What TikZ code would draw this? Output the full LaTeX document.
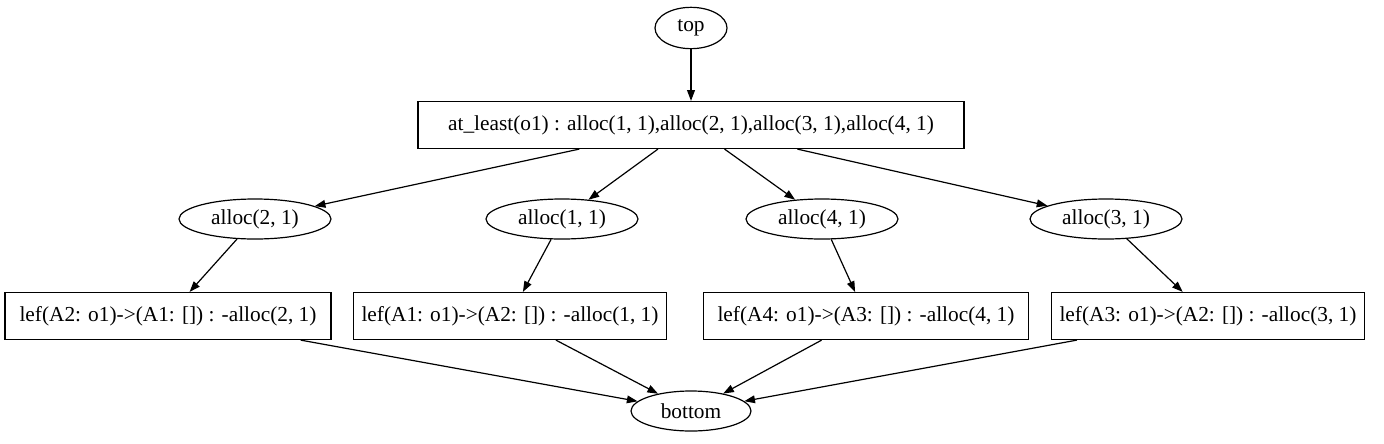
\documentclass[tikz,border=0pt]{standalone}
\usepackage{fontspec}
\setmainfont{Liberation Serif}
\usetikzlibrary{shapes.geometric,arrows.meta}

\tikzstyle{box} = [draw, text centered, minimum height = 35.25pt, inner sep = 0pt, line width = 0.9pt, font = \fontsize{16}{19}\selectfont]
\tikzstyle{oval} = [draw, ellipse, text centered, minimum height = 30pt, minimum width = 114pt, inner sep = 0pt, line width = 0.9pt, font = \fontsize{16}{19}\selectfont]
\tikzstyle{edge} = [-{Triangle[length = 8pt, width = 5.8pt]}, line width = 0.9pt]

\begin{document}
\begin{tikzpicture}[x = 0.75pt, y = -0.75pt]
		\useasboundingbox (0, 0) rectangle (1384, 443);
		\node [oval, minimum width = 54pt, minimum height = 31pt] at (691, 28) (top) {top};
		\node [box, minimum width = 409.5pt] at (691, 125) (least) {at\_least(o1) : alloc(1, 1),alloc(2, 1),alloc(3, 1),alloc(4, 1)};
		\node [oval] at (255, 219) (a2) {alloc(2, 1)};
		\node [oval] at (562, 219) (a1) {alloc(1, 1)};
		\node [oval] at (822, 219) (a4) {alloc(4, 1)};
		\node [oval] at (1106, 219) (a3) {alloc(3, 1)};
		\node [box, minimum width = 244.5pt] at (168, 316) (l2) {lef(A2: o1)->(A1: []) : -alloc(2, 1)};
		\node [box, minimum width = 234.75pt] at (510, 316) (l1) {lef(A1: o1)->(A2: []) : -alloc(1, 1)};
		\node [box, minimum width = 243.75pt] at (866, 316) (l4) {lef(A4: o1)->(A3: []) : -alloc(4, 1)};
		\node [box, minimum width = 234.75pt] at (1208, 316) (l3) {lef(A3: o1)->(A2: []) : -alloc(3, 1)};
		\node [oval, minimum width = 90pt] at (691, 411) (bottom) {bottom};

		\draw [edge] (top) -- (least);
		\draw [edge] (least) -- (a2);
		\draw [edge] (least) -- (a1);
		\draw [edge] (least) -- (a4);
		\draw [edge] (least) -- (a3);
		\draw [edge] (a2) -- (l2);
		\draw [edge] (a1) -- (l1);
		\draw [edge] (a4) -- (l4);
		\draw [edge] (a3) -- (l3);
		\draw [edge] (l2) -- (bottom);
		\draw [edge] (l1) -- (bottom);
		\draw [edge] (l4) -- (bottom);
		\draw [edge] (l3) -- (bottom);
	\end{tikzpicture}
\end{document}
